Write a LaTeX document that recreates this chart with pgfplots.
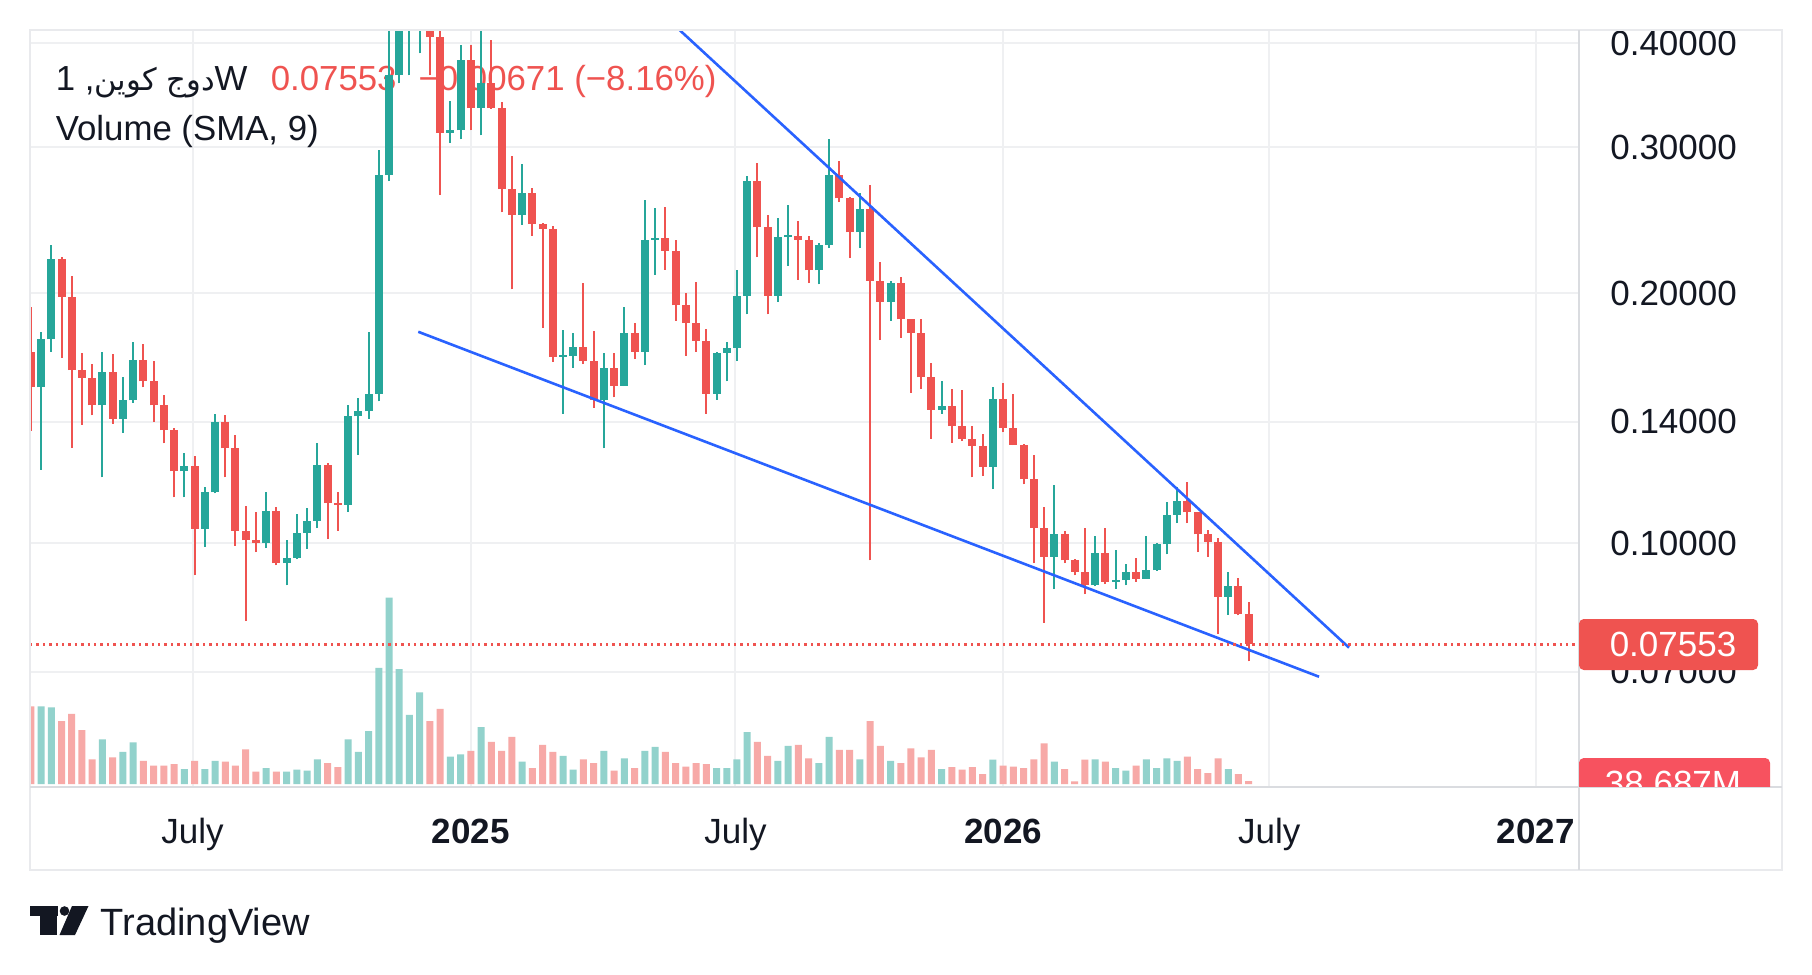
\documentclass[border=0pt]{standalone}
\usepackage{fontspec}
\setmainfont{Liberation Sans}
\newfontfamily\arabicfont[Script=Arabic,Scale=0.88]{DejaVu Sans}
\TeXXeTstate=1
\usepackage{pgfplots}
\usepackage{pgfplotstable}
\pgfplotsset{compat=1.18}
\definecolor{tvgreen}{HTML}{26A69A}
\definecolor{tvred}{HTML}{EF5350}
\definecolor{volgreen}{HTML}{92D2CC}
\definecolor{volred}{HTML}{F7A9A7}
\definecolor{gridc}{HTML}{EFF0F2}
\definecolor{framec}{HTML}{E9EAED}
\definecolor{sepc}{HTML}{DADCE0}
\definecolor{txt}{HTML}{131722}
\definecolor{tvblue}{HTML}{2962FF}
\definecolor{volbox}{HTML}{F7525F}

\pgfplotstableread{
i o h l c v
0 0.1700 0.1925 0.1364 0.1540 1013
1 0.1540 0.1797 0.1226 0.1760 1013
2 0.1760 0.2288 0.1700 0.2201 1000
3 0.2201 0.2210 0.1673 0.1980 819
4 0.1980 0.2097 0.1303 0.1616 915
5 0.1616 0.1694 0.1389 0.1581 704
6 0.1581 0.1643 0.1425 0.1465 323
7 0.1465 0.1700 0.1200 0.1607 581
8 0.1607 0.1689 0.1393 0.1412 348
9 0.1412 0.1587 0.1358 0.1486 420
10 0.1486 0.1748 0.1476 0.1661 542
11 0.1661 0.1736 0.1540 0.1566 303
12 0.1566 0.1659 0.1400 0.1465 239
13 0.1465 0.1508 0.1318 0.1368 239
14 0.1368 0.1377 0.1135 0.1220 258
15 0.1220 0.1285 0.1135 0.1238 194
16 0.1238 0.1273 0.0914 0.1039 303
17 0.1039 0.1167 0.0989 0.1151 194
18 0.1151 0.1431 0.1148 0.1400 303
19 0.1400 0.1425 0.1200 0.1300 291
20 0.1300 0.1351 0.0993 0.1035 239
21 0.1035 0.1109 0.0805 0.1007 452
22 0.1007 0.1090 0.0975 0.1000 162
23 0.1000 0.1151 0.0986 0.1094 207
24 0.1094 0.1104 0.0940 0.0946 162
25 0.0946 0.1007 0.0889 0.0960 162
26 0.0960 0.1083 0.0956 0.1028 188
27 0.1028 0.1101 0.0984 0.1064 174
28 0.1064 0.1321 0.1042 0.1242 323
29 0.1242 0.1250 0.1011 0.1117 272
30 0.1117 0.1152 0.1035 0.1112 219
31 0.1112 0.1467 0.1090 0.1421 581
32 0.1421 0.1496 0.1278 0.1441 420
33 0.1441 0.1797 0.1412 0.1513 690
34 0.1513 0.2973 0.1481 0.2775 1515
35 0.2775 0.4500 0.2730 0.3660 2430
36 0.3660 0.4800 0.3580 0.4300 1497
37 0.4300 0.4800 0.3660 0.4400 903
38 0.4400 0.4700 0.3890 0.4500 1194
39 0.4500 0.4600 0.3660 0.4070 819
40 0.4070 0.4140 0.2626 0.3120 981
41 0.3120 0.3413 0.3035 0.3142 356
42 0.3142 0.3983 0.3065 0.3822 387
43 0.3822 0.3983 0.3142 0.3343 432
44 0.3343 0.4300 0.3099 0.3582 743
45 0.3582 0.4040 0.3335 0.3343 549
46 0.3343 0.3402 0.2503 0.2670 432
47 0.2670 0.2925 0.2021 0.2485 614
48 0.2485 0.2861 0.2418 0.2644 291
49 0.2644 0.2680 0.2345 0.2424 207
50 0.2424 0.2432 0.1817 0.2391 510
51 0.2391 0.2413 0.1654 0.1677 420
52 0.1677 0.1805 0.1431 0.1682 368
53 0.1682 0.1790 0.1627 0.1724 188
54 0.1724 0.2057 0.1643 0.1659 323
55 0.1659 0.1802 0.1455 0.1488 272
56 0.1488 0.1696 0.1300 0.1625 432
57 0.1625 0.1694 0.1498 0.1548 174
58 0.1548 0.1925 0.1545 0.1790 336
59 0.1790 0.1843 0.1666 0.1700 207
60 0.1700 0.2590 0.1638 0.2319 432
61 0.2319 0.2530 0.2106 0.2330 485
62 0.2330 0.2537 0.2135 0.2250 420
63 0.2250 0.2319 0.1853 0.1933 272
64 0.1933 0.2000 0.1682 0.1840 227
65 0.1840 0.2062 0.1700 0.1753 272
66 0.1753 0.1810 0.1431 0.1513 258
67 0.1513 0.1700 0.1488 0.1696 207
68 0.1696 0.1748 0.1566 0.1717 207
69 0.1717 0.2130 0.1657 0.1985 323
70 0.1985 0.2768 0.1886 0.2730 678
71 0.2730 0.2873 0.2210 0.2401 549
72 0.2401 0.2485 0.1886 0.1985 368
73 0.1985 0.2461 0.1952 0.2336 303
74 0.2336 0.2555 0.2159 0.2346 497
75 0.2346 0.2444 0.2077 0.2319 510
76 0.2319 0.2346 0.2057 0.2130 336
77 0.2130 0.2297 0.2049 0.2288 272
78 0.2288 0.3065 0.2266 0.2775 614
79 0.2775 0.2884 0.2574 0.2601 446
80 0.2601 0.2613 0.2204 0.2368 446
81 0.2368 0.2644 0.2266 0.2527 323
82 0.2527 0.2700 0.0953 0.2071 819
83 0.2071 0.2180 0.1756 0.1952 497
84 0.1952 0.2071 0.1853 0.2057 303
85 0.2057 0.2092 0.1768 0.1860 272
86 0.1860 0.1864 0.1517 0.1792 465
87 0.1792 0.1860 0.1533 0.1583 348
88 0.1583 0.1648 0.1336 0.1447 446
89 0.1447 0.1566 0.1431 0.1461 194
90 0.1461 0.1533 0.1321 0.1383 219
91 0.1383 0.1530 0.1327 0.1336 188
92 0.1336 0.1383 0.1200 0.1309 219
93 0.1309 0.1354 0.1205 0.1235 129
94 0.1235 0.1540 0.1161 0.1492 317
95 0.1492 0.1561 0.1359 0.1377 239
96 0.1377 0.1513 0.1312 0.1314 227
97 0.1314 0.1316 0.1177 0.1193 207
98 0.1193 0.1278 0.0946 0.1042 323
99 0.1042 0.1106 0.0802 0.0963 530
100 0.0963 0.1175 0.0880 0.1025 291
101 0.1025 0.1035 0.0946 0.0953 194
102 0.0953 0.0957 0.0914 0.0923 33
103 0.0923 0.1042 0.0868 0.0889 317
104 0.0889 0.1021 0.0887 0.0973 323
105 0.0973 0.1042 0.0892 0.0898 291
106 0.0898 0.0980 0.0881 0.0902 207
107 0.0902 0.0944 0.0889 0.0923 174
108 0.0923 0.0960 0.0898 0.0906 239
109 0.0906 0.1021 0.0905 0.0927 323
110 0.0927 0.1000 0.0926 0.0996 207
111 0.0996 0.1120 0.0969 0.1082 336
112 0.1082 0.1167 0.1057 0.1124 303
113 0.1124 0.1183 0.1057 0.1089 356
114 0.1089 0.1091 0.0975 0.1024 194
115 0.1024 0.1038 0.0963 0.1004 143
116 0.1004 0.1014 0.0778 0.0862 336
117 0.0862 0.0923 0.0819 0.0887 194
118 0.0887 0.0908 0.0818 0.0822 129
119 0.0822 0.0850 0.0720 0.07553 38.687
}\candles

\begin{document}
\begin{tikzpicture}
\begin{scope}[x=0.25pt,y=-0.25pt]
\fill[white] (0,0) rectangle (1812,975);
\useasboundingbox (0,0) rectangle (1812,975);
\end{scope}

% grid, ticks and tick labels
\begin{axis}[
  at={(7.5pt,-196.75pt)}, anchor=south west,
  scale only axis, width=387.25pt, height=189.25pt,
  xmin=-0.078, xmax=151.27,
  ymode=log, ymin=0.05081, ymax=0.41508,
  axis line style={draw=none},
  major tick length=0pt, minor tick length=0pt,
  yminorticks=false, xminorticks=false,
  xtick={15.8,43,68.85,95,121,147.05},
  xticklabels={July,\textbf{2025},July,\textbf{2026},July,\textbf{2027}},
  ytick={0.07,0.1,0.14,0.2,0.3,0.4},
  yticklabels={0.07000,0.10000,0.14000,0.20000,0.30000,0.40000},
  yticklabel pos=right,
  grid=major,
  major grid style={draw=gridc, line width=0.5pt},
  tick label style={font=\fontsize{8.75}{10}\selectfont, text=txt},
  xticklabel style={anchor=base, yshift=-14pt},
  yticklabel style={anchor=west, xshift=4.3pt},
]
\addplot[draw=none] coordinates {(0,0.1)};
\end{axis}

% legend texts (under the candles)
\begin{scope}[x=0.25pt,y=-0.25pt]
\node[anchor=base west, inner sep=0pt, text=txt, font=\fontsize{8.7}{10}\selectfont] at (55,90)
  {1 ,{\arabicfont\beginR دوج كوين\endR}W};
\node[anchor=base west, inner sep=0pt, text=tvred, font=\fontsize{8.7}{10}\selectfont] at (270,90)
  {0.07553\hspace{5.5pt}−0.00671 (−8.16\%)};
\node[anchor=base west, inner sep=0pt, text=txt, font=\fontsize{8.7}{10}\selectfont] at (55,140)
  {Volume (SMA, 9)};
\end{scope}

% volume overlay
\begin{axis}[
  at={(7.5pt,-196.75pt)}, anchor=south west,
  scale only axis, width=387.25pt, height=189.25pt,
  xmin=-0.078, xmax=151.27,
  hide axis, ymin=-39, ymax=9832]
\addplot[ybar, bar width=1.75pt, bar shift=0pt, fill=volgreen, draw=none,
  restrict expr to domain={\thisrow{c}-\thisrow{o}}{0:1}] table[x=i, y=v]{\candles};
\addplot[ybar, bar width=1.75pt, bar shift=0pt, fill=volred, draw=none,
  restrict expr to domain={\thisrow{c}-\thisrow{o}}{-1:-0.000001}] table[x=i, y=v]{\candles};
\end{axis}

% candles and lines
\begin{axis}[
  at={(7.5pt,-196.75pt)}, anchor=south west,
  scale only axis, width=387.25pt, height=189.25pt,
  xmin=-0.078, xmax=151.27,
  ymode=log, ymin=0.05081, ymax=0.41508,
  hide axis]
\pgfplotstablegetrowsof{\candles}
\pgfmathtruncatemacro{\lastrow}{\pgfplotsretval-1}
\pgfplotsforeachungrouped \rowidx in {0,...,\lastrow}{%
  \pgfplotstablegetelem{\rowidx}{i}\of\candles \let\cI\pgfplotsretval
  \pgfplotstablegetelem{\rowidx}{o}\of\candles \let\cO\pgfplotsretval
  \pgfplotstablegetelem{\rowidx}{h}\of\candles \let\cH\pgfplotsretval
  \pgfplotstablegetelem{\rowidx}{l}\of\candles \let\cL\pgfplotsretval
  \pgfplotstablegetelem{\rowidx}{c}\of\candles \let\cC\pgfplotsretval
  \pgfmathtruncatemacro{\isup}{\cC>=\cO}
  \ifnum\isup=1 \def\ccol{tvgreen}\else\def\ccol{tvred}\fi
  \pgfmathsetmacro{\bb}{min(\cO,\cC)}
  \pgfmathsetmacro{\bt}{max(max(\cO,\cC),\bb*1.006)}
  \edef\temp{%
    \noexpand\addplot[draw=\ccol, line width=0.5pt, forget plot] coordinates {(\cI,\cL) (\cI,\cH)};
    \noexpand\addplot[draw=\ccol, line width=2pt, forget plot] coordinates {(\cI,\bb) (\cI,\bt)};
  }\temp
}
\addplot[tvblue, line width=0.65pt] coordinates {(63.4,0.4150) (128.8,0.0748)};
\addplot[tvblue, line width=0.65pt] coordinates {(37.86,0.1797) (125.87,0.0690)};
\addplot[tvred, line width=0.7pt, dash pattern=on 0.6pt off 1.0pt] coordinates {(-0.078,0.07553) (151.27,0.07553)};
\end{axis}

% frame, separators, labels
\begin{scope}[x=0.25pt,y=-0.25pt]
\draw[framec, line width=0.5pt] (30,30) rectangle (1782,870);
\draw[sepc, line width=0.6pt] (1579,30) -- (1579,870);
\draw[sepc, line width=0.6pt] (30,787) -- (1782,787);
\fill[tvred, rounded corners=1.2pt] (1579,619) rectangle (1758,670);
\node[text=white, font=\fontsize{8.75}{10}\selectfont, inner sep=0pt] at (1673,644.5) {0.07553};
\begin{scope}
\clip (1579,700) rectangle (1785,786);
\fill[volbox, rounded corners=1.2pt] (1579,758) rectangle (1770,809);
\node[text=white, font=\fontsize{8.75}{10}\selectfont, inner sep=0pt] at (1673,783.5) {38.687M};
\end{scope}
% TradingView logo
\fill[txt] (30,906) rectangle (57.5,915.5);
\fill[txt] (40,906) rectangle (56.5,935);
\fill[txt] (64.5,911) circle (4.8);
\fill[txt] (72,906) -- (88.5,906) -- (75,935) -- (59.5,935) -- cycle;
\node[anchor=base west, inner sep=0pt, text=txt, font=\fontsize{9.5}{11}\selectfont] at (100,935) {TradingView};
\end{scope}
\end{tikzpicture}
\end{document}
